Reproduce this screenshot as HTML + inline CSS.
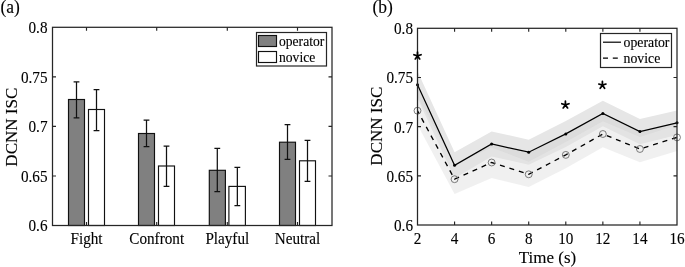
<!DOCTYPE html>
<html><head><meta charset="utf-8"><style>
html,body{margin:0;padding:0;background:#fff;}
svg{display:block;will-change:transform;}
text{font-family:"Liberation Serif", serif;fill:#000;stroke:#000;stroke-width:0.12px;}
</style></head><body>
<svg width="685" height="267" viewBox="0 0 685 267">
<rect x="68.5" y="99.5" width="16.00" height="126.00" fill="#808080" stroke="#111" stroke-width="1.15"/>
<rect x="88.5" y="109.5" width="16.00" height="116.00" fill="#ffffff" stroke="#111" stroke-width="1.15"/>
<rect x="138.5" y="133.5" width="16.00" height="92.00" fill="#808080" stroke="#111" stroke-width="1.15"/>
<rect x="158.5" y="166.0" width="16.00" height="59.50" fill="#ffffff" stroke="#111" stroke-width="1.15"/>
<rect x="209.3" y="170.3" width="16.10" height="55.20" fill="#808080" stroke="#111" stroke-width="1.15"/>
<rect x="228.9" y="186.4" width="16.50" height="39.10" fill="#ffffff" stroke="#111" stroke-width="1.15"/>
<rect x="279.5" y="142.2" width="16.00" height="83.30" fill="#808080" stroke="#111" stroke-width="1.15"/>
<rect x="299.5" y="160.8" width="16.00" height="64.70" fill="#ffffff" stroke="#111" stroke-width="1.15"/>
<path d="M76.50,81.8V117.8M73.60,81.8H79.40M73.60,117.8H79.40" stroke="#111" stroke-width="1.25" fill="none"/>
<path d="M96.50,89.5V130.5M93.60,89.5H99.40M93.60,130.5H99.40" stroke="#111" stroke-width="1.25" fill="none"/>
<path d="M146.50,120.0V146.6M143.60,120.0H149.40M143.60,146.6H149.40" stroke="#111" stroke-width="1.25" fill="none"/>
<path d="M166.50,146.0V186.4M163.60,146.0H169.40M163.60,186.4H169.40" stroke="#111" stroke-width="1.25" fill="none"/>
<path d="M217.30,148.4V191.6M214.40,148.4H220.20M214.40,191.6H220.20" stroke="#111" stroke-width="1.25" fill="none"/>
<path d="M237.35,167.4V205.7M234.45,167.4H240.25M234.45,205.7H240.25" stroke="#111" stroke-width="1.25" fill="none"/>
<path d="M287.50,124.7V159.4M284.60,124.7H290.40M284.60,159.4H290.40" stroke="#111" stroke-width="1.25" fill="none"/>
<path d="M307.50,140.3V181.3M304.60,140.3H310.40M304.60,181.3H310.40" stroke="#111" stroke-width="1.25" fill="none"/>
<rect x="52.5" y="27.3" width="279.5" height="198.2" fill="none" stroke="#262626" stroke-width="1.25"/>
<path d="M52.5,175.94999999999996h3.5M332.0,175.94999999999996h-3.5M52.5,126.40000000000003h3.5M332.0,126.40000000000003h-3.5M52.5,76.85h3.5M332.0,76.85h-3.5M86.5,225.5v-3.5M86.5,27.3v3.5M156.7,225.5v-3.5M156.7,27.3v3.5M227.3,225.5v-3.5M227.3,27.3v3.5M297.5,225.5v-3.5M297.5,27.3v3.5" stroke="#262626" stroke-width="1.15" fill="none"/>
<text transform="translate(47.50,231.30) scale(1,1.03)" text-anchor="end" font-size="15.2">0.6</text>
<text transform="translate(47.50,181.75) scale(1,1.03)" text-anchor="end" font-size="15.2">0.65</text>
<text transform="translate(47.50,132.20) scale(1,1.03)" text-anchor="end" font-size="15.2">0.7</text>
<text transform="translate(47.50,82.65) scale(1,1.03)" text-anchor="end" font-size="15.2">0.75</text>
<text transform="translate(47.50,33.10) scale(1,1.03)" text-anchor="end" font-size="15.2">0.8</text>
<text transform="translate(86.50,243.60) scale(1,1.03)" text-anchor="middle" font-size="15.2">Fight</text>
<text transform="translate(156.70,243.60) scale(1,1.03)" text-anchor="middle" font-size="15.2">Confront</text>
<text transform="translate(227.30,243.60) scale(1,1.03)" text-anchor="middle" font-size="15.2">Playful</text>
<text transform="translate(297.50,243.60) scale(1,1.03)" text-anchor="middle" font-size="15.2">Neutral</text>
<text transform="translate(17.10,127.20) rotate(-90) scale(1,1.0)" text-anchor="middle" font-size="17.0">DCNN ISC</text>
<text transform="translate(0.50,12.80) scale(1,1.03)" font-size="17.5">(a)</text>
<rect x="256.5" y="32.5" width="70" height="33.5" fill="#fff" stroke="#262626" stroke-width="1.2"/>
<rect x="258.5" y="35.5" width="18" height="11" fill="#808080" stroke="#111" stroke-width="1.15"/>
<rect x="258.5" y="51.5" width="18" height="11" fill="#fff" stroke="#111" stroke-width="1.15"/>
<text transform="translate(279.00,45.90) scale(1,1.03)" font-size="13.6">operator</text>
<text transform="translate(279.00,61.50) scale(1,1.03)" font-size="13.6">novice</text>
<polygon points="417.50,71.20 454.57,152.30 491.64,131.50 528.71,139.70 565.79,120.90 602.86,100.70 639.93,118.90 677.00,110.50 677.00,122.80 639.93,131.60 602.86,113.50 565.79,133.90 528.71,152.20 491.64,144.00 454.57,165.30 417.50,84.70" fill="#e6e6e6" fill-opacity="1"/>
<polygon points="417.50,84.70 454.57,165.30 491.64,144.00 528.71,152.20 565.79,133.90 602.86,113.50 639.93,131.60 677.00,122.80 677.00,135.10 639.93,144.30 602.86,126.30 565.79,146.90 528.71,164.70 491.64,156.50 454.57,178.30 417.50,98.20" fill="#dcdcdc" fill-opacity="1"/>
<polygon points="417.50,96.70 454.57,164.50 491.64,147.50 528.71,161.80 565.79,141.90 602.86,121.20 639.93,137.00 677.00,124.90 677.00,150.90 639.93,162.20 602.86,147.30 565.79,168.20 528.71,187.10 491.64,178.00 454.57,193.90 417.50,124.70" fill="#e7e7e7" fill-opacity="0.63"/>
<polyline points="417.50,84.70 454.57,165.30 491.64,144.00 528.71,152.20 565.79,133.90 602.86,113.50 639.93,131.60 677.00,122.80" fill="none" stroke="#000" stroke-width="1.2"/>
<polyline points="417.50,110.70 454.57,179.20 491.64,162.50 528.71,174.30 565.79,154.90 602.86,134.00 639.93,149.00 677.00,137.40" fill="none" stroke="#000" stroke-width="1.35" stroke-dasharray="5.0 4.9" stroke-dashoffset="1.4"/>
<circle cx="417.50" cy="84.70" r="1.5" fill="#000"/>
<circle cx="454.57" cy="165.30" r="1.5" fill="#000"/>
<circle cx="491.64" cy="144.00" r="1.5" fill="#000"/>
<circle cx="528.71" cy="152.20" r="1.5" fill="#000"/>
<circle cx="565.79" cy="133.90" r="1.5" fill="#000"/>
<circle cx="602.86" cy="113.50" r="1.5" fill="#000"/>
<circle cx="639.93" cy="131.60" r="1.5" fill="#000"/>
<circle cx="677.00" cy="122.80" r="1.5" fill="#000"/>
<circle cx="417.50" cy="110.70" r="3.45" fill="none" stroke="#666" stroke-width="0.85"/>
<circle cx="454.57" cy="179.20" r="3.45" fill="none" stroke="#666" stroke-width="0.85"/>
<circle cx="491.64" cy="162.50" r="3.45" fill="none" stroke="#666" stroke-width="0.85"/>
<circle cx="528.71" cy="174.30" r="3.45" fill="none" stroke="#666" stroke-width="0.85"/>
<circle cx="565.79" cy="154.90" r="3.45" fill="none" stroke="#666" stroke-width="0.85"/>
<circle cx="602.86" cy="134.00" r="3.45" fill="none" stroke="#666" stroke-width="0.85"/>
<circle cx="639.93" cy="149.00" r="3.45" fill="none" stroke="#666" stroke-width="0.85"/>
<circle cx="677.00" cy="137.40" r="3.45" fill="none" stroke="#666" stroke-width="0.85"/>
<rect x="417.5" y="28.3" width="259.5" height="196.7" fill="none" stroke="#262626" stroke-width="1.25"/>
<path d="M417.5,175.82h3.5M677.0,175.82h-3.5M417.5,126.65h3.5M677.0,126.65h-3.5M417.5,77.47h3.5M677.0,77.47h-3.5M454.57,225.0v-3.5M454.57,28.3v3.5M491.64,225.0v-3.5M491.64,28.3v3.5M528.71,225.0v-3.5M528.71,28.3v3.5M565.79,225.0v-3.5M565.79,28.3v3.5M602.86,225.0v-3.5M602.86,28.3v3.5M639.93,225.0v-3.5M639.93,28.3v3.5" stroke="#262626" stroke-width="1.15" fill="none"/>
<text transform="translate(413.00,230.90) scale(1,1.03)" text-anchor="end" font-size="15.2">0.6</text>
<text transform="translate(413.00,181.72) scale(1,1.03)" text-anchor="end" font-size="15.2">0.65</text>
<text transform="translate(413.00,132.55) scale(1,1.03)" text-anchor="end" font-size="15.2">0.7</text>
<text transform="translate(413.00,83.38) scale(1,1.03)" text-anchor="end" font-size="15.2">0.75</text>
<text transform="translate(413.00,34.20) scale(1,1.03)" text-anchor="end" font-size="15.2">0.8</text>
<text transform="translate(417.50,243.50) scale(1,1.03)" text-anchor="middle" font-size="15.2">2</text>
<text transform="translate(454.57,243.50) scale(1,1.03)" text-anchor="middle" font-size="15.2">4</text>
<text transform="translate(491.64,243.50) scale(1,1.03)" text-anchor="middle" font-size="15.2">6</text>
<text transform="translate(528.71,243.50) scale(1,1.03)" text-anchor="middle" font-size="15.2">8</text>
<text transform="translate(565.79,243.50) scale(1,1.03)" text-anchor="middle" font-size="15.2">10</text>
<text transform="translate(602.86,243.50) scale(1,1.03)" text-anchor="middle" font-size="15.2">12</text>
<text transform="translate(639.93,243.50) scale(1,1.03)" text-anchor="middle" font-size="15.2">14</text>
<text transform="translate(677.00,243.50) scale(1,1.03)" text-anchor="middle" font-size="15.2">16</text>
<text transform="translate(547.50,262.60) scale(1,0.94)" text-anchor="middle" font-size="17.0">Time (s)</text>
<text transform="translate(381.60,126.20) rotate(-90) scale(1,1.0)" text-anchor="middle" font-size="17.0">DCNN ISC</text>
<text transform="translate(372.50,12.80) scale(1,1.03)" font-size="17.5">(b)</text>
<g fill="#000"><path d="M417.50,55.90L417.50,52.15M417.50,55.90L421.07,54.74M417.50,55.90L419.70,58.93M417.50,55.90L415.30,58.93M417.50,55.90L413.93,54.74" stroke="#000" stroke-width="1.75" stroke-linecap="round" fill="none"/></g>
<g fill="#000"><path d="M565.40,104.90L565.40,101.15M565.40,104.90L568.97,103.74M565.40,104.90L567.60,107.93M565.40,104.90L563.20,107.93M565.40,104.90L561.83,103.74" stroke="#000" stroke-width="1.75" stroke-linecap="round" fill="none"/></g>
<g fill="#000"><path d="M602.40,85.20L602.40,81.45M602.40,85.20L605.97,84.04M602.40,85.20L604.60,88.23M602.40,85.20L600.20,88.23M602.40,85.20L598.83,84.04" stroke="#000" stroke-width="1.75" stroke-linecap="round" fill="none"/></g>
<rect x="600.5" y="33.5" width="71" height="34" fill="#fff" stroke="#262626" stroke-width="1.2"/>
<path d="M603,42.2H621" stroke="#000" stroke-width="1.2"/>
<path d="M603,58.2H621" stroke="#000" stroke-width="1.2" stroke-dasharray="5 4.8"/>
<text transform="translate(623.50,46.80) scale(1,1.03)" font-size="13.8">operator</text>
<text transform="translate(623.50,62.60) scale(1,1.03)" font-size="13.8">novice</text>
</svg>
</body></html>
